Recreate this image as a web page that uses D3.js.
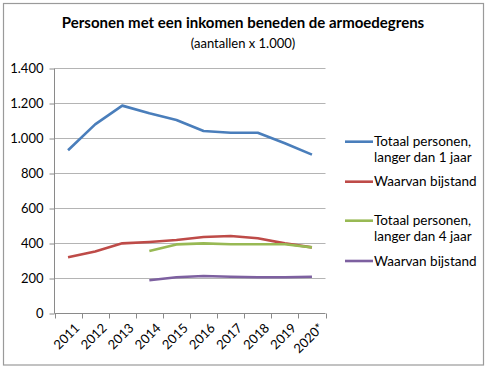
<!DOCTYPE html>
<html><head><meta charset="utf-8">
<script src="https://cdn.jsdelivr.net/npm/d3@7"></script>
<style>body{margin:0;background:#fff}svg{display:block;font-family:Lato,"Open Sans",sans-serif}</style>
</head><body>
<script>
const years = ["2011","2012","2013","2014","2015","2016","2017","2018","2019","2020*"];
const totaal1 = [930,1078,1185,1142,1103,1040,1030,1030,970,905];
const bijstand1 = [318,352,398,406,417,434,440,427,398,375];
const totaal4 = [null,null,null,354,392,398,393,393,393,375];
const bijstand4 = [null,null,null,187,204,211,207,204,204,207];
const yTicks = [0,200,400,600,800,1000,1200,1400];
const seriesNames = ["Totaal personen,|langer dan 1 jaar","Waarvan bijstand","Totaal personen,|langer dan 4 jaar","Waarvan bijstand"];
const colors = ["#4a7ebb","#be4b48","#98b954","#7d60a0"];
const title = "Personen met een inkomen beneden de armoedegrens";
const subtitle = "(aantallen x 1.000)";

const W=487,H=369;
const svg=d3.select("body").append("svg").attr("width",W).attr("height",H);
svg.append("rect").attr("x",3.5).attr("y",3.5).attr("width",480).attr("height",361.5)
  .attr("fill","#fff").attr("stroke","#9a9a9a").attr("stroke-width",1.2);

svg.append("text").attr("x",243).attr("y",28).attr("text-anchor","middle")
  .attr("font-weight","bold").attr("font-size",15).attr("fill","#000").text(title);
svg.append("text").attr("x",243).attr("y",48).attr("text-anchor","middle")
  .attr("font-size",13).attr("fill","#000").text(subtitle);

const x=d3.scaleBand().domain(years).range([54.5,325.5]);
const y=d3.scaleLinear().domain([0,1400]).range([313,68]);

// gridlines
svg.append("g").selectAll("line").data(yTicks.slice(1)).join("line")
  .attr("x1",54.5).attr("x2",325.5).attr("y1",d=>Math.round(y(d))+0.5).attr("y2",d=>Math.round(y(d))+0.5)
  .attr("stroke","#b4b4b4").attr("stroke-width",1);

// y axis
const ya=svg.append("g").attr("transform","translate(54.5,0.5)")
  .call(d3.axisLeft(y).tickValues(yTicks).tickSize(5).tickPadding(6).tickFormat(d=>d3.format(",")(d).replace(/,/g,".")));
ya.select(".domain").attr("stroke","#8a8a8a").attr("d","M0,68V313");
ya.selectAll(".tick line").attr("stroke","#8a8a8a");
ya.selectAll(".tick text").attr("font-size",13).attr("fill","#000").attr("font-family","Lato,'Open Sans',sans-serif");

// x axis
const xa=svg.append("g").attr("transform","translate(0,313.5)");
xa.append("line").attr("x1",54.5).attr("x2",325.5).attr("stroke","#8a8a8a");
const edges=years.map(d=>x(d)).concat([x.range()[1]]);
xa.selectAll("line.t").data(edges).join("line").attr("class","t")
  .attr("x1",d=>Math.round(d)+0.5).attr("x2",d=>Math.round(d)+0.5).attr("y1",0).attr("y2",5).attr("stroke","#8a8a8a");
xa.selectAll("text").data(years).join("text")
  .attr("transform",d=>`translate(${x(d)+x.bandwidth()/2+5},${8}) rotate(-45)`)
  .attr("text-anchor","end").attr("dy","0.8em").attr("font-size",13).attr("fill","#000").text(d=>d);

// lines
const data=[totaal1,bijstand1,totaal4,bijstand4];
const line=d3.line().defined(d=>d.v!=null).x(d=>x(d.k)+x.bandwidth()/2).y(d=>y(d.v));
svg.append("g").selectAll("path").data(data).join("path")
  .attr("d",s=>line(s.map((v,i)=>({k:years[i],v}))))
  .attr("fill","none").attr("stroke",(d,i)=>colors[i]).attr("stroke-width",2.6).attr("stroke-linejoin","round");

// legend
const legY=[141.7,181.7,220.7,261];
const lg=svg.append("g").selectAll("g").data(seriesNames).join("g")
  .attr("transform",(d,i)=>`translate(345,${legY[i]})`);
lg.append("line").attr("x1",0).attr("x2",28).attr("stroke",(d,i)=>colors[i]).attr("stroke-width",2.6);
lg.each(function(d){
  const parts=d.split("|");
  const t=d3.select(this).append("text").attr("x",29).attr("y",0).attr("font-size",13.5).attr("fill","#000");
  parts.forEach((p,j)=>t.append("tspan").attr("x",29).attr("dy",j===0?"0.35em":"1.15em").text(p));
});
</script>
</body></html>
